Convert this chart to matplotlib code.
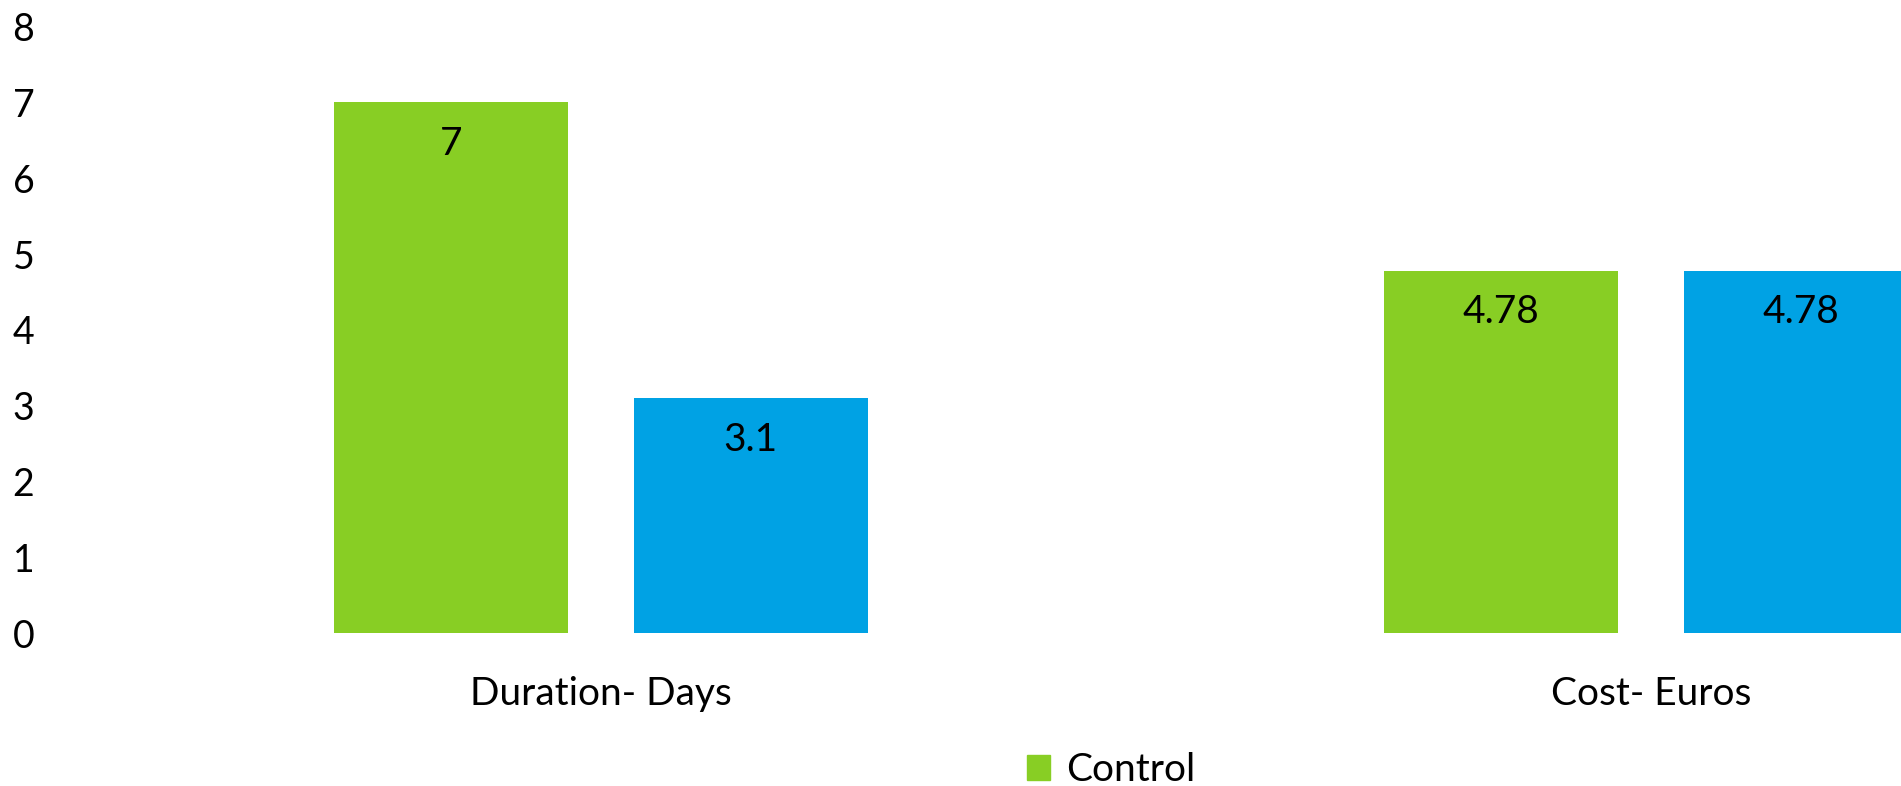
import numpy as np
import matplotlib.pyplot as plt
from matplotlib.patches import Patch

plt.rcParams['font.family'] = ['Lato', 'DejaVu Sans']

categories = ['Duration- Days', 'Cost- Euros']
control = [7, 4.78]
treatment = [3.1, 4.78]
green = '#88CE24'
blue = '#00A2E4'

fig = plt.figure(figsize=(19.01, 7.86), dpi=100)
# axes spans from x=76px to the right edge of the canvas; the last bar is cut off
ax = fig.add_axes([76 / 1901, 1 - 633 / 786, 1 - 76 / 1901, (633 - 26.7) / 786])

x = np.arange(len(categories))
w = 0.223
off = 0.1426
b1 = ax.bar(x - off, control, w, color=green, label='Control')
b2 = ax.bar(x + off, treatment, w, color=blue)

for bars, vals in ((b1, control), (b2, treatment)):
    for rect, v in zip(bars, vals):
        ax.annotate(f'{v:g}', (rect.get_x() + rect.get_width() / 2, v),
                    xytext=(0, -30), textcoords='offset points',
                    ha='center', va='center', fontsize=28, color='black')

ax.set_xlim(-0.5, 1 + (1901 - 1651) / 1050)
ax.set_ylim(0, 8)
ax.set_yticks(range(0, 9))
ax.set_xticks(x)
ax.set_xticklabels(categories)
ax.tick_params(axis='y', length=0, pad=30, labelsize=27)
ax.tick_params(axis='x', length=0, pad=31, labelsize=28)
for s in ax.spines.values():
    s.set_visible(False)

fig.legend(handles=[Patch(color=green, label='Control')], loc='center',
           bbox_to_anchor=(1111 / 1901, 1 - 770 / 786), frameon=False,
           fontsize=28, handlelength=0.6, handleheight=0.6, handletextpad=0.4)

fig.savefig('out.png', dpi=100)
